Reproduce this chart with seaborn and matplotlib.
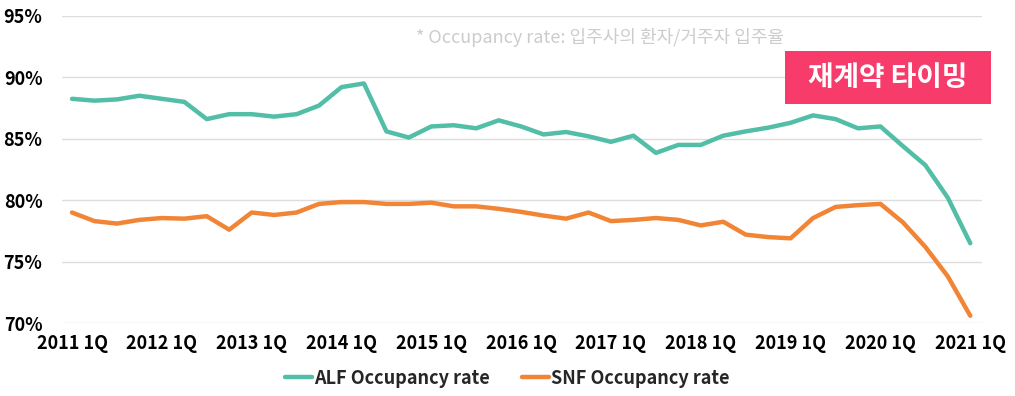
import pandas as pd
import matplotlib
matplotlib.use("Agg")
import matplotlib.pyplot as plt
import seaborn as sns
from matplotlib.patches import Rectangle
from matplotlib.ticker import FuncFormatter

sns.set_style("white")
plt.rcParams["font.family"] = ["Noto Sans CJK KR", "DejaVu Sans"]

# quarterly occupancy rates, 2011 1Q .. 2021 1Q
years = list(range(2011, 2022))
alf_rate = [
    88.25, 88.1, 88.2, 88.5, 88.25, 88.0, 86.6, 87.0, 87.0, 86.8, 87.0,
    87.7, 89.2, 89.5, 85.6, 85.1, 86.0, 86.1, 85.85, 86.5, 86.0, 85.35,
    85.55, 85.2, 84.75, 85.25, 83.85, 84.5, 84.5, 85.25, 85.6, 85.9,
    86.3, 86.9, 86.6, 85.85, 86.0, 84.4, 82.85, 80.2, 76.5,
]
snf_rate = [
    79.0, 78.3, 78.1, 78.4, 78.55, 78.5, 78.7, 77.6, 79.0, 78.8, 79.0,
    79.7, 79.85, 79.85, 79.7, 79.7, 79.8, 79.5, 79.5, 79.3, 79.05, 78.75,
    78.5, 79.0, 78.3, 78.4, 78.55, 78.4, 77.95, 78.25, 77.2, 77.0,
    76.9, 78.55, 79.45, 79.6, 79.7, 78.2, 76.2, 73.8, 70.6,
]
series_names = ["ALF Occupancy rate", "SNF Occupancy rate"]
tick_labels = [f"{y} 1Q" for y in years]
note_text = "* Occupancy rate: 입주사의 환자/거주자 입주율"
badge_text = "재계약 타이밍"

n = len(alf_rate)
df = pd.DataFrame({
    "q": list(range(n)) * 2,
    "rate": alf_rate + snf_rate,
    "series": [series_names[0]] * n + [series_names[1]] * n,
})

fig = plt.figure(figsize=(10.15, 3.96), dpi=100)
ax = fig.add_axes([0.061, 0.184, 0.906, 0.776])

sns.lineplot(
    data=df, x="q", y="rate", hue="series",
    palette=["#52BEA7", "#F28535"], linewidth=3.2, ax=ax,
)

ax.set_xlim(-0.45, 40.5)
ax.set_ylim(70, 95)
ax.set_yticks([70, 75, 80, 85, 90, 95])
ax.yaxis.set_major_formatter(FuncFormatter(lambda v, p: f"{v:.0f}%"))
ax.set_xticks(range(0, n, 4))
ax.set_xticklabels(tick_labels)
ax.grid(axis="y", color="#DDDDDD", linewidth=1)
for s in ax.spines.values():
    s.set_visible(False)
ax.tick_params(axis="both", length=0, labelsize=13, colors="black")
ax.tick_params(axis="x", pad=8)
ax.tick_params(axis="y", pad=14)
for lbl in ax.get_xticklabels() + ax.get_yticklabels():
    lbl.set_fontweight("bold")
ax.set_xlabel("")
ax.set_ylabel("")

ax.legend(
    loc="upper center", bbox_to_anchor=(0.484, -0.095), ncol=2, frameon=False,
    handlelength=1.5, handletextpad=0.1, columnspacing=1.8,
    prop={"size": 13, "weight": "bold"},
)

fig.text(0.591, 0.905, note_text, color="#CCCCCC", fontsize=13,
         ha="center", va="center")
fig.patches.append(Rectangle((0.7734, 0.7374), 0.203, 0.1338,
                             transform=fig.transFigure, fc="#F73B6B", ec="none"))
fig.text(0.875, 0.802, badge_text, color="white", fontsize=20, fontweight="bold",
         ha="center", va="center")

fig.savefig("out.png", dpi=100)
